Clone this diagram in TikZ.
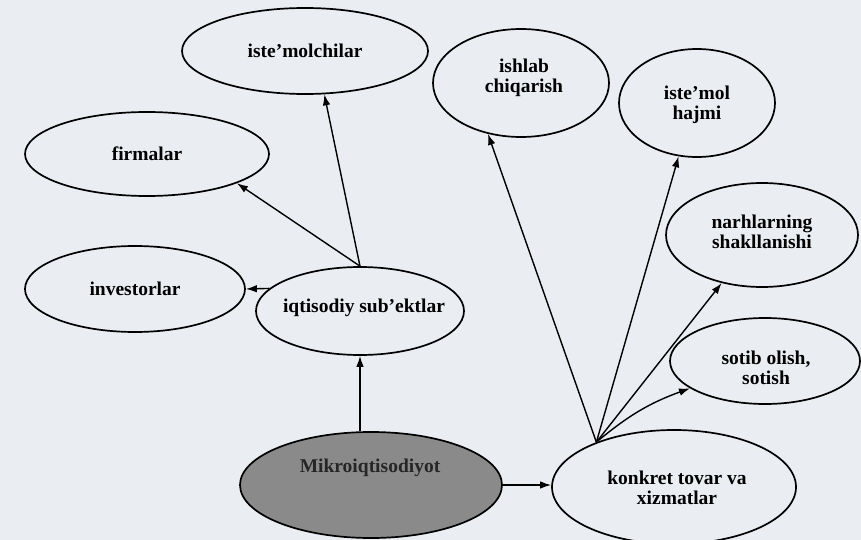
\documentclass[tikz,border=0pt]{standalone}
\usepackage{fontspec}
\setmainfont{Liberation Serif}
\usetikzlibrary{shapes.geometric,arrows.meta}
\definecolor{paper}{RGB}{234,237,242}
\definecolor{shade}{RGB}{138,138,138}
\begin{document}
\begin{tikzpicture}[x=1pt,y=-1pt,
  oval/.style={ellipse, draw=black, line width=1.7pt, inner sep=0pt, align=center,
    font=\fontsize{19.5}{20.5}\selectfont\bfseries},
  caption/.style={inner sep=0pt, align=center, font=\fontsize{19.5}{20.5}\selectfont\bfseries},
  link/.style={line width=1.4pt, -{Latex[length=11pt,width=7.5pt]}}]
% paper
\fill[paper] (0,0) rectangle (861,540);
\useasboundingbox (0,0) rectangle (861,540);

% left group
\node[oval, minimum width=246pt, minimum height=86pt] (cons) at (305,51) {iste’molchilar};
\node[oval, minimum width=244pt, minimum height=84pt] (firm) at (147,154) {firmalar};
\node[oval, minimum width=220pt, minimum height=86pt] (inv) at (135,289) {investorlar};
\node[oval, minimum width=208pt, minimum height=88pt] (subj) at (360,311) {};
\node[caption] (subjtext) at (364,308) {iqtisodiy sub’ektlar};

% root
\node[oval, fill=shade, minimum width=262pt, minimum height=106pt] (micro) at (371,485) {};
\node[caption, text=black!85] (microtext) at (370,468) {Mikroiqtisodiyot};

% right group
\node[oval, minimum width=244pt, minimum height=114pt] (goods) at (674,487) {};
\node[caption] (goodstext) at (677,488) {konkret tovar va\\xizmatlar};
\node[oval, minimum width=176pt, minimum height=108pt] (prod) at (521,83) {};
\node[caption] (prodtext) at (524,78) {ishlab\\chiqarish};
\node[oval, minimum width=156pt, minimum height=108pt] (vol) at (697,103) {};
\node[caption] (voltext) at (697,105) {iste’mol\\hajmi};
\node[oval, minimum width=192pt, minimum height=104pt] (price) at (762,235) {};
\node[caption] (pricetext) at (762,232) {narhlarning\\shakllanishi};
\node[oval, minimum width=190pt, minimum height=86pt] (trade) at (765,361) {};
\node[caption] (tradetext) at (766,368) {sotib olish,\\sotish};

% connectors
\draw[link] (micro.north -| subj.south) -- (subj.south);
\draw[link] (micro.east) -- (micro.east -| goods.west);

\draw[link] (subj.north) -- (cons.-66);
\draw[link] (subj.north) -- (firm.-18);
\draw[link] (subj.166) -- (inv.east);

\coordinate (hub) at (goods.150);
\draw[link] (hub) -- (prod.-123);
\draw[link] (hub) -- (vol.-109);
\draw[link] (hub) -- (price.-130);
\draw[link] (hub) to[bend left=10] (trade.-160);
\end{tikzpicture}
\end{document}
